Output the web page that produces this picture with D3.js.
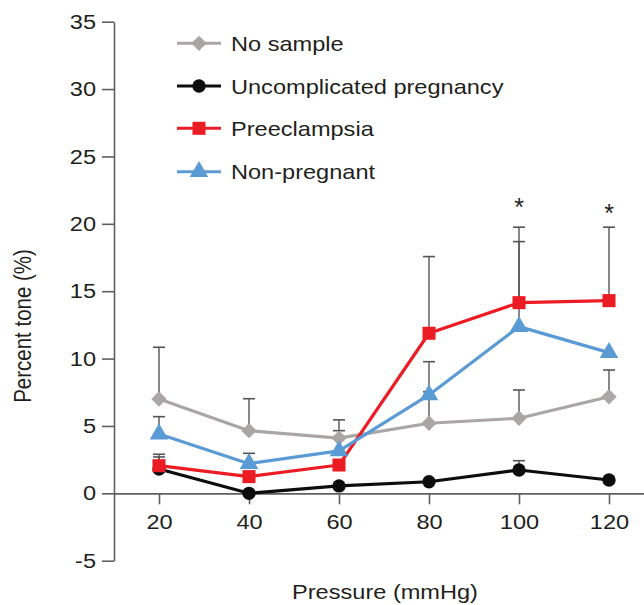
<!DOCTYPE html>
<html>
<head>
<meta charset="utf-8">
<script src="https://cdn.jsdelivr.net/npm/d3@7"></script>
<style>
  html, body { margin: 0; padding: 0; background: #fff; }
  svg { display: block; }
  text { font-family: "Liberation Sans", Arial, Helvetica, sans-serif; fill: #231f20; }
</style>
</head>
<body>
<svg id="chart" width="644" height="605"></svg>
<script>
// Pressure steps (mmHg)
const pressures = [20, 40, 60, 80, 100, 120];

// Mean percent tone per group
const noSample      = [7.0, 4.65, 4.1, 5.2, 5.57, 7.17];
const uncomplicated = [1.8, 0.0, 0.55, 0.86, 1.73, 0.99];
const preeclampsia  = [2.05, 1.24, 2.1, 11.88, 14.15, 14.3];
const nonPregnant   = [4.4, 2.2, 3.15, 7.3, 12.37, 10.44];

// Upper error (SEM); null where no bar is drawn
const noSampleErr      = [3.84, 2.37, 1.35, 2.34, 2.1, 1.98];
const uncomplicatedErr = [1.1, null, null, null, 0.69, null];
const preeclampsiaErr  = [0.65, null, null, 5.69, 5.6, 5.45];
const nonPregnantErr   = [1.29, 0.77, 1.5, 2.47, 6.31, null];

// Significance markers
const sigPressures = [100, 120];
const sigLevels = [21.5, 21.05];

const yTicks = [-5, 0, 5, 10, 15, 20, 25, 30, 35];
const xTicks = [20, 40, 60, 80, 100, 120];

const seriesNames = ["No sample", "Uncomplicated pregnancy", "Preeclampsia", "Non-pregnant"];

const series = [
  { name: seriesNames[0], values: noSample,      err: noSampleErr,      color: "#aaa6a6", symbol: d3.symbolDiamond2, size: 150 },
  { name: seriesNames[1], values: uncomplicated, err: uncomplicatedErr, color: "#0d0d0d", symbol: d3.symbolCircle,   size: 140 },
  { name: seriesNames[2], values: preeclampsia,  err: preeclampsiaErr,  color: "#ec1c24", symbol: d3.symbolSquare,   size: 170 },
  { name: seriesNames[3], values: nonPregnant,   err: nonPregnantErr,   color: "#5b9bd5", symbol: d3.symbolTriangle, size: 150 }
];

const STRETCH = 1.15;   // typeface is set slightly wide
const FS = 20.5;

const svg = d3.select("#chart");

const x = d3.scaleLinear().domain([10, 130]).range([114, 654]);
const y = d3.scaleLinear().domain([-5, 35]).range([560.7, 21.7]);

const axisColor = "#5f5f5f";

// Y axis (plain hyphen for negatives)
const yAxis = svg.append("g")
  .attr("transform", `translate(${x(10)},0)`)
  .call(d3.axisLeft(y).tickValues(yTicks).tickSize(12).tickSizeOuter(0).tickFormat(d => String(d)));
yAxis.select(".domain").attr("stroke", axisColor).attr("stroke-width", 1.6);
yAxis.selectAll(".tick line").attr("stroke", axisColor).attr("stroke-width", 1.6);
yAxis.selectAll(".tick text")
  .attr("x", -18 / STRETCH)
  .attr("transform", `scale(${STRETCH},1)`)
  .style("font-size", FS + "px")
  .style("fill", "#231f20");

// X axis along zero
const xAxis = svg.append("g")
  .attr("transform", `translate(0,${y(0)})`)
  .call(d3.axisBottom(x).tickValues(xTicks).tickSize(11).tickSizeOuter(0).tickPadding(10));
xAxis.select(".domain").attr("stroke", axisColor).attr("stroke-width", 1.6);
xAxis.selectAll(".tick line").attr("stroke", axisColor).attr("stroke-width", 1.6);
xAxis.selectAll(".tick text")
  .attr("transform", `scale(${STRETCH},1)`)
  .style("font-size", FS + "px")
  .style("fill", "#231f20");

// Axis titles
svg.append("text")
  .attr("transform", `translate(385,599) scale(${STRETCH},1)`)
  .attr("text-anchor", "middle")
  .style("font-size", FS + "px")
  .text("Pressure (mmHg)");

svg.append("g")
  .attr("transform", `translate(31,326) scale(${STRETCH},1) rotate(-90)`)
  .append("text")
  .attr("text-anchor", "middle")
  .style("font-size", FS + "px")
  .text("Percent tone (%)");

// Error bars (upper only), drawn under the lines
const errG = svg.append("g");
const capHalf = 6;
series.forEach(s => {
  s.values.forEach((v, i) => {
    const e = s.err[i];
    if (e == null) return;
    const cx = x(pressures[i]);
    errG.append("line")
      .attr("x1", cx).attr("x2", cx)
      .attr("y1", y(v)).attr("y2", y(v + e))
      .attr("stroke", "#555").attr("stroke-width", 1.4);
    errG.append("line")
      .attr("x1", cx - capHalf).attr("x2", cx + capHalf)
      .attr("y1", y(v + e)).attr("y2", y(v + e))
      .attr("stroke", "#555").attr("stroke-width", 1.6);
  });
});

// Lines and markers
const line = d3.line().x((d, i) => x(pressures[i])).y(d => y(d));
series.forEach(s => {
  const g = svg.append("g");
  g.append("path")
    .attr("d", line(s.values))
    .attr("fill", "none")
    .attr("stroke", s.color)
    .attr("stroke-width", 3.2)
    .attr("stroke-linejoin", "round");
  g.selectAll("path.pt")
    .data(s.values)
    .join("path")
    .attr("class", "pt")
    .attr("transform", (d, i) => `translate(${x(pressures[i])},${y(d)})`)
    .attr("d", d3.symbol().type(s.symbol).size(s.size))
    .attr("fill", s.color);
});

// Significance asterisks
svg.selectAll("text.sig")
  .data(sigPressures)
  .join("text")
  .attr("class", "sig")
  .attr("transform", (d, i) => `translate(${x(d)},${y(sigLevels[i]) + 12})`)
  .attr("text-anchor", "middle")
  .style("font-size", "25px")
  .text("*");

// Legend
const legend = svg.append("g");
const legendY = [43.3, 86, 128.3, 171.7];
series.forEach((s, i) => {
  const row = legend.append("g").attr("transform", `translate(0,${legendY[i]})`);
  row.append("line")
    .attr("x1", 177).attr("x2", 221)
    .attr("stroke", s.color).attr("stroke-width", 3);
  row.append("path")
    .attr("transform", "translate(199,0)")
    .attr("d", d3.symbol().type(s.symbol).size(s.size))
    .attr("fill", s.color);
  row.append("text")
    .attr("transform", `translate(231,7.5) scale(${STRETCH},1)`)
    .style("font-size", FS + "px")
    .text(s.name);
});
</script>
</body>
</html>
